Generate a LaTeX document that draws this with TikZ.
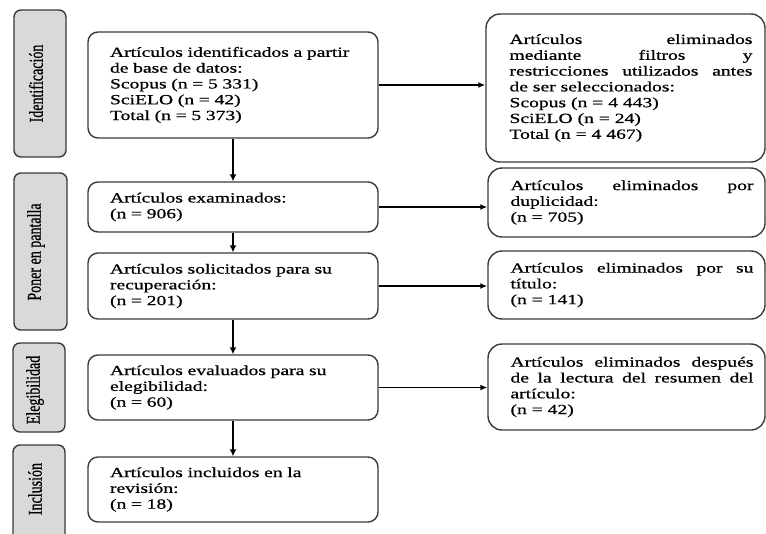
\documentclass[tikz,border=0pt]{standalone}
\usepackage{fontspec}
\setmainfont{Liberation Serif}[FakeStretch=1.4,FakeBold=0.8]
\newfontfamily\lblfont{Liberation Serif}[FakeBold=0.8]
\usetikzlibrary{arrows.meta}
\definecolor{phasegray}{HTML}{D9D9D9}
\definecolor{bordercol}{HTML}{3A3A3A}
\tikzset{
  phasebox/.style={draw=bordercol, fill=phasegray, line width=1.4pt, rounded corners=7pt, inner sep=0pt},
  phaselabel/.style={rotate=90, inner sep=0pt, font=\lblfont\fontsize{14}{16}\selectfont},
  mainbox/.style={draw=bordercol, line width=1.4pt, rounded corners=10pt, minimum width=290pt,
    text width=246pt, align=left, inner sep=0pt, font=\fontsize{14}{15.8}\selectfont},
  rbox/.style={draw=bordercol, line width=1.4pt, rounded corners=14pt, inner sep=0pt,
    font=\fontsize{14}{15.8}\selectfont},
  flow/.style={-{Latex[length=7pt,width=7pt]}, line width=2pt},
  side/.style={-{Latex[length=7pt,width=6pt]}, line width=1.5pt}
}
\newcommand{\rtext}[1]{\hspace*{11pt}\parbox{243pt}{#1}}
\begin{document}
\begin{tikzpicture}[x=1pt,y=-1pt]
\useasboundingbox (0,0) rectangle (766,533);
\clip (0,0) rectangle (766,533);

% phase boxes
\node[phasebox, minimum width=52pt, minimum height=147pt] (p1) at (40,83.5) {};
\node[phasebox, minimum width=53pt, minimum height=157pt] (p2) at (40.5,251.5) {};
\node[phasebox, minimum width=52pt, minimum height=89pt] (p3) at (39,387.5) {};
\node[phasebox, minimum width=52pt, minimum height=155pt] (p4) at (39,522.5) {};
\node[phaselabel] (l1) at (36,83.5) {\scalebox{1}[1.4]{Identificación}};
\node[phaselabel] (l2) at (36,252) {\scalebox{1}[1.4]{Poner en pantalla}};
\node[phaselabel] (l3) at (35,390) {\scalebox{1}[1.4]{Elegibilidad}};
\node[phaselabel] (l4) at (35,489) {\scalebox{1}[1.4]{Inclusión}};

% main column
\node[mainbox, minimum height=106pt] (b1) at (233,85) {Artículos identificados a partir\\ de base de datos:\\ Scopus (n = 5 331)\\ SciELO (n = 42)\\ Total (n = 5 373)};
\node[mainbox, minimum height=50pt] (b2) at (233,207) {Artículos examinados:\\ (n = 906)};
\node[mainbox, minimum height=66pt] (b3) at (233,286) {Artículos solicitados para su\\ recuperación:\\ (n = 201)};
\node[mainbox, minimum height=65pt] (b4) at (233,387.5) {Artículos evaluados para su\\ elegibilidad:\\ (n = 60)};
\node[mainbox, minimum height=65pt] (b5) at (233,489.5) {Artículos incluidos en la\\ revisión:\\ (n = 18)};

% right column
\node[rbox, minimum width=279pt, minimum height=148pt] (r1) at (625.5,88) {\rtext{Artículos eliminados\linebreak mediante filtros y\linebreak restricciones utilizados antes\linebreak de ser seleccionados:\newline Scopus (n = 4 443)\newline SciELO (n = 24)\newline Total (n = 4 467)}};
\node[rbox, minimum width=277pt, minimum height=69pt] (r2) at (626.5,202.5) {\rtext{Artículos eliminados por\linebreak duplicidad:\newline (n = 705)}};
\node[rbox, minimum width=277pt, minimum height=68pt] (r3) at (626.5,285) {\rtext{Artículos eliminados por su\linebreak título:\newline (n = 141)}};
\node[rbox, minimum width=277pt, minimum height=86pt] (r4) at (626.5,387) {\rtext{Artículos eliminados después\linebreak de la lectura del resumen del\linebreak artículo:\newline (n = 42)}};

% connectors
\draw[flow] (b1.south) -- (b2.north);
\draw[flow] (b2.south) -- (b3.north);
\draw[flow] (b3.south) -- (b4.north);
\draw[flow] (b4.south) -- (b5.north);
\draw[side] (b1.east) -- (b1.east -| r1.west);
\draw[side] (b2.east) -- (b2.east -| r2.west);
\draw[side] (b3.east) -- (b3.east -| r3.west);
\draw[side] (b4.east) -- (b4.east -| r4.west);
\end{tikzpicture}
\end{document}
